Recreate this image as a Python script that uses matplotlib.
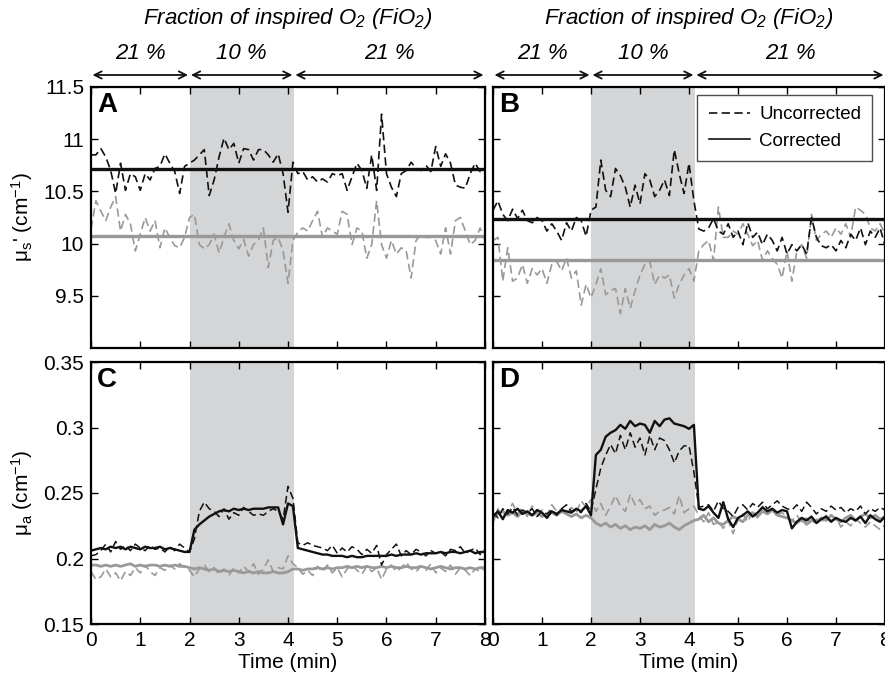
import numpy as np
import matplotlib
matplotlib.use("Agg")
import matplotlib.pyplot as plt

plt.rcParams['font.family'] = ['Liberation Sans', 'DejaVu Sans']
plt.rcParams['mathtext.fontset'] = 'custom'
plt.rcParams['mathtext.rm'] = 'Liberation Sans'
plt.rcParams['mathtext.it'] = 'Liberation Sans:italic'

# time axis (min), 0.1 min sampling
time = np.round(np.arange(0, 8.01, 0.1), 1)
hypoxia_start, hypoxia_end = 2.0, 4.12
phase_labels = ["21 %", "10 %", "21 %"]
phase_edges = [0.0, 2.0, 4.12, 8.0]

# reduced scattering, panel A (subject 1)
musp_A_unc_black = [10.85, 10.85, 10.91, 10.83, 10.70, 10.48, 10.77, 10.51, 10.67, 10.64,
                    10.51, 10.67, 10.61, 10.72, 10.74, 10.86, 10.77, 10.69, 10.48, 10.74,
                    10.77, 10.80, 10.85, 10.90, 10.46, 10.61, 10.83, 11.01, 10.90, 10.96,
                    10.77, 10.91, 10.90, 10.80, 10.90, 10.90, 10.85, 10.78, 10.86, 10.67,
                    10.30, 10.78, 10.67, 10.69, 10.61, 10.64, 10.59, 10.62, 10.59, 10.67,
                    10.65, 10.67, 10.51, 10.64, 10.77, 10.70, 10.53, 10.85, 10.51, 11.24,
                    10.67, 10.54, 10.45, 10.67, 10.70, 10.78, 10.72, 10.70, 10.75, 10.69,
                    10.93, 10.74, 10.86, 10.77, 10.56, 10.54, 10.53, 10.67, 10.77, 10.69,
                    10.67]
musp_A_unc_gray = [10.14, 10.41, 10.31, 10.22, 10.35, 10.45, 10.12, 10.28, 10.19, 9.93,
                   10.09, 10.25, 10.12, 10.22, 9.96, 10.15, 10.06, 9.98, 9.96, 10.06,
                   10.25, 10.28, 9.99, 9.95, 9.99, 10.09, 9.91, 10.06, 10.19, 10.03,
                   9.95, 10.04, 9.88, 9.99, 10.03, 10.15, 9.77, 10.03, 10.06, 9.93,
                   9.62, 10.03, 10.11, 10.15, 10.12, 10.22, 10.31, 10.06, 10.15, 10.12,
                   10.09, 10.31, 10.28, 9.99, 10.15, 10.12, 9.86, 9.99, 10.41, 9.99,
                   9.86, 10.03, 9.90, 9.96, 9.93, 9.67, 10.03, 10.09, 10.06, 10.06,
                   10.03, 9.90, 10.15, 9.90, 10.22, 10.25, 10.12, 9.99, 10.03, 10.15,
                   10.03]
musp_A_cor_black = 10.71
musp_A_cor_gray = 10.07

# reduced scattering, panel B (subject 2)
musp_B_unc_black = [10.32, 10.41, 10.28, 10.22, 10.33, 10.24, 10.32, 10.22, 10.20, 10.25,
                    10.22, 10.12, 10.19, 10.12, 10.03, 10.20, 10.12, 10.25, 10.22, 10.07,
                    10.32, 10.35, 10.80, 10.51, 10.45, 10.72, 10.65, 10.54, 10.35, 10.56,
                    10.38, 10.67, 10.61, 10.45, 10.51, 10.61, 10.46, 10.90, 10.67, 10.48,
                    10.77, 10.41, 10.14, 10.12, 10.15, 10.24, 10.12, 10.09, 10.19, 10.06,
                    10.12, 9.99, 10.20, 10.06, 10.11, 9.99, 10.09, 10.03, 9.93, 10.06,
                    9.90, 9.99, 9.93, 9.99, 9.90, 10.25, 10.06, 9.98, 9.96, 9.99,
                    9.93, 10.03, 9.96, 10.09, 10.03, 10.15, 9.99, 10.12, 10.06, 10.15,
                    9.98]
musp_B_unc_gray = [10.03, 10.06, 9.64, 9.96, 9.64, 9.67, 9.80, 9.62, 9.76, 9.70,
                   9.76, 9.62, 9.80, 9.83, 9.74, 9.86, 9.67, 9.74, 9.41, 9.61,
                   9.48, 9.61, 9.76, 9.51, 9.55, 9.57, 9.33, 9.57, 9.38, 9.55,
                   9.70, 9.80, 9.83, 9.61, 9.70, 9.67, 9.70, 9.48, 9.61, 9.70,
                   9.76, 9.64, 9.93, 9.99, 10.03, 9.84, 10.35, 10.06, 10.06, 10.12,
                   10.09, 10.19, 10.09, 9.98, 10.03, 9.84, 9.93, 9.86, 9.80, 9.67,
                   9.93, 9.64, 9.93, 9.99, 9.86, 10.28, 10.03, 10.09, 10.12, 10.06,
                   10.15, 10.09, 10.19, 10.06, 10.35, 10.32, 10.28, 10.15, 10.12, 10.19,
                   10.09]
musp_B_cor_black = 10.24
musp_B_cor_gray = 9.84

# absorption, panel C (subject 1)
mua_C_cor_black = [0.206, 0.207, 0.208, 0.207, 0.209, 0.208, 0.209, 0.207, 0.209, 0.208,
                   0.207, 0.209, 0.208, 0.208, 0.209, 0.207, 0.208, 0.207, 0.206, 0.205,
                   0.205, 0.222, 0.226, 0.229, 0.232, 0.234, 0.236, 0.237, 0.236, 0.238,
                   0.237, 0.238, 0.237, 0.238, 0.238, 0.238, 0.239, 0.239, 0.239, 0.226,
                   0.242, 0.240, 0.208, 0.207, 0.206, 0.205, 0.204, 0.203, 0.203, 0.202,
                   0.202, 0.202, 0.201, 0.202, 0.201, 0.201, 0.202, 0.202, 0.202, 0.202,
                   0.202, 0.203, 0.202, 0.203, 0.203, 0.203, 0.204, 0.203, 0.204, 0.204,
                   0.204, 0.205, 0.204, 0.205, 0.205, 0.204, 0.205, 0.206, 0.204, 0.205,
                   0.205]
mua_C_unc_black = [0.202, 0.203, 0.206, 0.211, 0.205, 0.213, 0.207, 0.210, 0.206, 0.211,
                   0.208, 0.206, 0.210, 0.207, 0.208, 0.205, 0.209, 0.206, 0.211, 0.208,
                   0.205, 0.215, 0.236, 0.243, 0.238, 0.236, 0.232, 0.238, 0.230, 0.235,
                   0.233, 0.239, 0.236, 0.233, 0.234, 0.233, 0.236, 0.238, 0.236, 0.230,
                   0.255, 0.246, 0.212, 0.210, 0.212, 0.210, 0.209, 0.208, 0.206, 0.210,
                   0.204, 0.208, 0.205, 0.209, 0.207, 0.203, 0.207, 0.204, 0.210, 0.195,
                   0.203, 0.207, 0.211, 0.202, 0.206, 0.203, 0.207, 0.205, 0.202, 0.206,
                   0.204, 0.205, 0.202, 0.207, 0.206, 0.209, 0.204, 0.206, 0.208, 0.203,
                   0.207]
mua_C_cor_gray = [0.195, 0.195, 0.194, 0.195, 0.194, 0.195, 0.194, 0.195, 0.196, 0.194,
                  0.195, 0.194, 0.195, 0.195, 0.194, 0.195, 0.194, 0.195, 0.194, 0.194,
                  0.193, 0.192, 0.193, 0.192, 0.191, 0.192, 0.190, 0.191, 0.190, 0.191,
                  0.190, 0.189, 0.190, 0.189, 0.190, 0.189, 0.189, 0.190, 0.189, 0.189,
                  0.190, 0.192, 0.192, 0.191, 0.192, 0.192, 0.193, 0.192, 0.193, 0.192,
                  0.193, 0.193, 0.194, 0.193, 0.194, 0.193, 0.194, 0.193, 0.193, 0.194,
                  0.193, 0.194, 0.193, 0.193, 0.194, 0.193, 0.193, 0.194, 0.193, 0.192,
                  0.193, 0.194, 0.193, 0.192, 0.193, 0.193, 0.192, 0.193, 0.192, 0.193,
                  0.193]
mua_C_unc_gray = [0.190, 0.184, 0.186, 0.192, 0.186, 0.189, 0.183, 0.190, 0.187, 0.193,
                  0.189, 0.195, 0.190, 0.187, 0.193, 0.191, 0.195, 0.192, 0.196, 0.193,
                  0.191, 0.186, 0.192, 0.195, 0.190, 0.193, 0.188, 0.192, 0.187, 0.193,
                  0.189, 0.194, 0.190, 0.196, 0.188, 0.192, 0.199, 0.190, 0.193, 0.192,
                  0.202, 0.196, 0.193, 0.188, 0.191, 0.187, 0.194, 0.190, 0.195, 0.189,
                  0.193, 0.186, 0.192, 0.195, 0.191, 0.188, 0.194, 0.190, 0.193, 0.184,
                  0.192, 0.195, 0.190, 0.193, 0.197, 0.192, 0.190, 0.194, 0.191, 0.196,
                  0.189, 0.193, 0.190, 0.195, 0.188, 0.193, 0.191, 0.187, 0.192, 0.190,
                  0.193]

# absorption, panel D (subject 2)
mua_D_cor_black = [0.232, 0.236, 0.230, 0.237, 0.235, 0.238, 0.234, 0.236, 0.233, 0.237,
                   0.235, 0.231, 0.236, 0.234, 0.237, 0.236, 0.235, 0.238, 0.236, 0.240,
                   0.233, 0.279, 0.283, 0.293, 0.296, 0.298, 0.302, 0.299, 0.305, 0.301,
                   0.303, 0.302, 0.296, 0.305, 0.301, 0.306, 0.307, 0.303, 0.302, 0.301,
                   0.299, 0.302, 0.238, 0.237, 0.240, 0.235, 0.231, 0.243, 0.230, 0.224,
                   0.231, 0.233, 0.236, 0.232, 0.235, 0.239, 0.236, 0.238, 0.235, 0.237,
                   0.236, 0.223, 0.228, 0.231, 0.229, 0.232, 0.227, 0.230, 0.232, 0.228,
                   0.231, 0.229, 0.228, 0.231, 0.229, 0.232, 0.227, 0.233, 0.230, 0.228,
                   0.232]
mua_D_unc_black = [0.235, 0.231, 0.238, 0.234, 0.239, 0.233, 0.237, 0.235, 0.238, 0.232,
                   0.236, 0.234, 0.237, 0.233, 0.238, 0.241, 0.236, 0.237, 0.235, 0.242,
                   0.236, 0.253, 0.269, 0.279, 0.287, 0.280, 0.294, 0.283, 0.296, 0.285,
                   0.292, 0.279, 0.294, 0.283, 0.292, 0.290, 0.283, 0.273, 0.282, 0.286,
                   0.286, 0.266, 0.239, 0.240, 0.241, 0.236, 0.244, 0.238, 0.236, 0.232,
                   0.239, 0.241, 0.237, 0.242, 0.239, 0.243, 0.238, 0.241, 0.244, 0.240,
                   0.238, 0.237, 0.241, 0.236, 0.243, 0.239, 0.234, 0.238, 0.236, 0.240,
                   0.237, 0.239, 0.235, 0.238, 0.236, 0.240, 0.234, 0.238, 0.236, 0.239,
                   0.237]
mua_D_cor_gray = [0.231, 0.234, 0.236, 0.233, 0.235, 0.232, 0.236, 0.234, 0.233, 0.235,
                  0.232, 0.234, 0.235, 0.233, 0.236, 0.234, 0.232, 0.234, 0.231, 0.233,
                  0.231, 0.227, 0.225, 0.227, 0.224, 0.226, 0.223, 0.225, 0.222, 0.224,
                  0.223, 0.225, 0.222, 0.226, 0.224, 0.225, 0.227, 0.224, 0.222, 0.225,
                  0.227, 0.229, 0.230, 0.233, 0.228, 0.231, 0.227, 0.226, 0.229, 0.232,
                  0.230, 0.228, 0.233, 0.235, 0.232, 0.236, 0.234, 0.237, 0.233, 0.232,
                  0.231, 0.229, 0.227, 0.230, 0.226, 0.229, 0.228, 0.231, 0.229, 0.233,
                  0.230, 0.228, 0.231, 0.233, 0.229, 0.232, 0.234, 0.231, 0.233, 0.230,
                  0.232]
mua_D_unc_gray = [0.227, 0.238, 0.232, 0.236, 0.242, 0.234, 0.239, 0.232, 0.240, 0.235,
                  0.237, 0.233, 0.241, 0.236, 0.238, 0.234, 0.239, 0.235, 0.244, 0.239,
                  0.245, 0.236, 0.242, 0.233, 0.240, 0.248, 0.240, 0.236, 0.249, 0.241,
                  0.245, 0.238, 0.240, 0.233, 0.236, 0.237, 0.239, 0.234, 0.248, 0.235,
                  0.238, 0.240, 0.233, 0.228, 0.235, 0.226, 0.228, 0.223, 0.229, 0.219,
                  0.230, 0.234, 0.228, 0.236, 0.231, 0.240, 0.235, 0.237, 0.233, 0.235,
                  0.232, 0.229, 0.233, 0.228, 0.231, 0.226, 0.230, 0.227, 0.233, 0.229,
                  0.231, 0.224, 0.228, 0.225, 0.230, 0.227, 0.224, 0.228, 0.225, 0.222,
                  0.226]

BLACK = '#111111'
GRAY = '#999999'
SHADE = '#d4d5d7'
DASH = (5, 2.6)
TICK_FS = 15
LABEL_FS = 15

fig = plt.figure(figsize=(8.85, 6.8), dpi=100)
W, H = 885.0, 680.0


def make_axes(x0, x1, y0, y1):
    return fig.add_axes([x0 / W, 1 - y1 / H, (x1 - x0) / W, (y1 - y0) / H])


axA = make_axes(91, 485, 87, 348)
axB = make_axes(493, 885, 87, 348)
axC = make_axes(91, 485, 362, 624)
axD = make_axes(493, 885, 362, 624)

for ax in (axA, axB, axC, axD):
    ax.axvspan(hypoxia_start, hypoxia_end, color=SHADE, lw=0, zorder=0)
    ax.set_xlim(0, 8)
    ax.set_xticks(range(9))
    ax.tick_params(direction='in', top=True, right=True, length=5, width=1,
                   labelsize=TICK_FS, pad=5)
    for s in ax.spines.values():
        s.set_linewidth(1.6)

# top row: reduced scattering
for ax, unc_b, unc_g, cor_b, cor_g in (
        (axA, musp_A_unc_black, musp_A_unc_gray, musp_A_cor_black, musp_A_cor_gray),
        (axB, musp_B_unc_black, musp_B_unc_gray, musp_B_cor_black, musp_B_cor_gray)):
    ax.plot(time, unc_g, color=GRAY, lw=1.2, dashes=DASH)
    ax.plot(time, unc_b, color=BLACK, lw=1.2, dashes=DASH)
    ax.axhline(cor_g, color=GRAY, lw=2.4)
    ax.axhline(cor_b, color=BLACK, lw=2.4)
    ax.set_ylim(9.0, 11.5)
    ax.set_yticks([9.5, 10, 10.5, 11, 11.5])
    ax.set_xticklabels([])

axA.set_yticklabels(['9.5', '10', '10.5', '11', '11.5'])
axB.set_yticklabels([])

# bottom row: absorption
for ax, cor_b, unc_b, cor_g, unc_g in (
        (axC, mua_C_cor_black, mua_C_unc_black, mua_C_cor_gray, mua_C_unc_gray),
        (axD, mua_D_cor_black, mua_D_unc_black, mua_D_cor_gray, mua_D_unc_gray)):
    ax.plot(time, unc_g, color=GRAY, lw=1.2, dashes=DASH)
    ax.plot(time, cor_g, color=GRAY, lw=2.0)
    ax.plot(time, unc_b, color=BLACK, lw=1.1, dashes=DASH)
    ax.plot(time, cor_b, color=BLACK, lw=1.7)
    ax.set_ylim(0.15, 0.35)
    ax.set_yticks([0.15, 0.2, 0.25, 0.3, 0.35])
    ax.set_xlabel('Time (min)', fontsize=LABEL_FS, labelpad=2)

axC.set_yticklabels(['0.15', '0.2', '0.25', '0.3', '0.35'])
axD.set_yticklabels([])

axA.set_ylabel("$\\mathregular{\\mu_s}$' (cm$^{\\mathregular{-1}}$)", fontsize=LABEL_FS, labelpad=6)
axC.set_ylabel("$\\mathregular{\\mu_a}$ (cm$^{\\mathregular{-1}}$)", fontsize=LABEL_FS, labelpad=6)

for ax, letter in zip((axA, axB, axC, axD), 'ABCD'):
    ax.text(0.015, 0.98, letter, transform=ax.transAxes, fontsize=20,
            fontweight='bold', ha='left', va='top')

# legend
leg_handles = [plt.Line2D([], [], color=BLACK, lw=1.2, dashes=DASH),
               plt.Line2D([], [], color=BLACK, lw=1.2)]
leg = axB.legend(leg_handles, ['Uncorrected', 'Corrected'], loc='upper right',
                 bbox_to_anchor=(0.968, 0.97), fontsize=13.5, frameon=True,
                 fancybox=False, handlelength=2.2, borderpad=0.6,
                 labelspacing=0.5, handletextpad=0.5, borderaxespad=0)
leg.get_frame().set_edgecolor('#222222')
leg.get_frame().set_linewidth(1.0)

# inspired oxygen phases above the top row
for ax in (axA, axB):
    trans = ax.get_xaxis_transform()
    ax.text(4.0, 1.262, 'Fraction of inspired O$_{\\mathregular{2}}$ (FiO$_{\\mathregular{2}}$)',
            transform=trans, ha='center', va='center', fontsize=16,
            style='italic', clip_on=False)
    for i, lab in enumerate(phase_labels):
        a, b = phase_edges[i], phase_edges[i + 1]
        ax.annotate('', xy=(b - 0.03, 1.046), xytext=(a + 0.03, 1.046),
                    xycoords=trans, textcoords=trans,
                    arrowprops=dict(arrowstyle='<->', lw=1.3, color=BLACK,
                                    mutation_scale=13, shrinkA=0, shrinkB=0),
                    annotation_clip=False)
        ax.text((a + b) / 2, 1.128, lab, transform=trans, ha='center',
                va='center', fontsize=16, style='italic', clip_on=False)

fig.savefig('out.png', dpi=100)
